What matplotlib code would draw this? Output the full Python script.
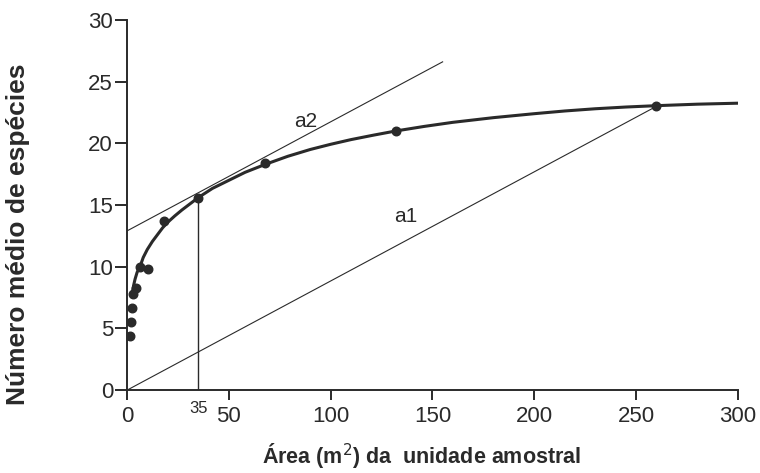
import matplotlib
matplotlib.use("Agg")
import matplotlib.pyplot as plt

# Observed points (area m2, mean number of species)
pts_x = [1.5, 2.0, 2.3, 3.0, 4.4, 6.4, 10.5, 18, 35, 68, 132, 260]
pts_y = [4.4, 5.55, 6.7, 7.8, 8.3, 10.0, 9.8, 13.7, 15.6, 18.4, 21.0, 23.0]

# Fitted curve
curve_x = [2.7, 3.3, 4, 5, 6.4, 8, 10, 12.5, 15, 17.5, 20, 23.5, 27, 31, 35, 42, 50, 58, 68,
           79, 90, 100, 110, 121, 132, 146, 160, 180, 200, 215, 230, 245, 260, 280, 300]
curve_y = [7.9, 8.5, 9.0, 9.55, 10.0, 10.75, 11.4, 12.05, 12.6, 13.15, 13.6, 14.12, 14.6, 15.1, 15.6,
           16.35, 17.0, 17.65, 18.3, 18.95, 19.5, 19.92, 20.3, 20.66, 21.0, 21.37, 21.7, 22.08, 22.4,
           22.62, 22.8, 22.94, 23.05, 23.17, 23.25]

# Tangent lines
a1_x = [0, 260]
a1_y = [0, 23.0]
a2_x = [0, 155]
a2_y = [12.9, 26.6]
vline_x = 35
vline_top = 15.6

xticks = [0, 50, 100, 150, 200, 250, 300]
yticks = [0, 5, 10, 15, 20, 25, 30]

plt.rcParams['font.family'] = ['Liberation Sans', 'DejaVu Sans']

fig = plt.figure(figsize=(7.6, 4.73), dpi=100)
ax = fig.add_axes([0.167, 0.175, 0.804, 0.783])

ink = '#2a2a2a'
ax.plot(a1_x, a1_y, color=ink, lw=0.8)
ax.plot(a2_x, a2_y, color=ink, lw=0.8)
ax.plot([vline_x, vline_x], [0, vline_top], color=ink, lw=1.0)
ax.plot(curve_x, curve_y, color=ink, lw=2.2, solid_capstyle='round', solid_joinstyle='round')
ax.scatter(pts_x, pts_y, s=38, color=ink, zorder=5)

ax.text(88, 21.8, 'a2', fontsize=15, color=ink, ha='center', va='center')
ax.text(137, 14.1, 'a1', fontsize=15, color=ink, ha='center', va='center')
ax.text(35, -0.9, '35', fontsize=12, color=ink, ha='center', va='top')

ax.set_xlim(0, 300)
ax.set_ylim(0, 30)
ax.set_xticks(xticks)
ax.set_yticks(yticks)
ax.tick_params(axis='both', labelsize=16, colors=ink, width=1.4, length=7)
ax.tick_params(axis='x', pad=4)
ax.tick_params(axis='y', length=9, pad=1)
for s in ['top', 'right']:
    ax.spines[s].set_visible(False)
for s in ['left', 'bottom']:
    ax.spines[s].set_color(ink)
    ax.spines[s].set_linewidth(1.4)
ax.spines['left'].set_bounds(0, 30)

ax.set_xlabel('Área (m$^2$) da  unidade amostral', fontsize=15.5, fontweight='bold', color=ink)
ax.xaxis.set_label_coords(0.482, -0.138)
ax.set_ylabel('Número médio de espécies', fontsize=19, fontweight='bold', color=ink)
ax.yaxis.set_label_coords(-0.159, 0.42)

fig.savefig('out.png', dpi=100)
